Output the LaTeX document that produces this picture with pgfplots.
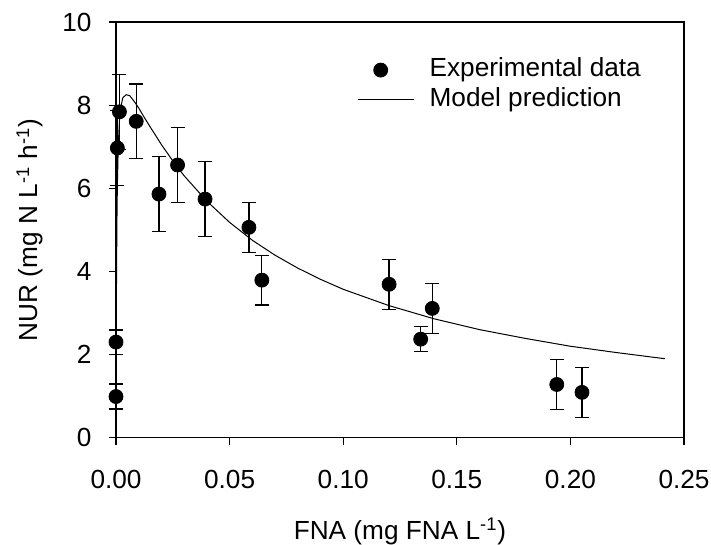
\documentclass[border=0pt]{standalone}
\usepackage{fontspec}
\setmainfont{Liberation Sans}
\usepackage{pgfplots}
\pgfplotsset{compat=1.18}
\usepackage{pgfplotstable}
\pgfplotstableread{
x y e
0.0000 0.99 0.30
0.0000 2.30 0.29
0.0006 6.97 0.90
0.0015 7.84 0.90
0.0089 7.61 0.90
0.0189 5.86 0.90
0.0271 6.56 0.90
0.0392 5.74 0.90
0.0585 5.06 0.60
0.0642 3.79 0.60
0.1202 3.69 0.60
0.1341 2.37 0.30
0.1392 3.11 0.60
0.1940 1.28 0.60
0.2051 1.09 0.60
}\expdata
\pgfplotstableread{
x y
0 0
0.0001 2.18
0.0002 3.54
0.0004 5.15
0.0006 6.05
0.001 7.03
0.0015 7.61
0.002 7.91
0.003 8.18
0.0045 8.25
0.006 8.23
0.008 8.09
0.010 7.93
0.0125 7.70
0.015 7.48
0.02 7.05
0.025 6.66
0.03 6.30
0.04 5.69
0.05 5.18
0.06 4.75
0.07 4.39
0.08 4.08
0.09 3.81
0.10 3.57
0.12 3.18
0.14 2.86
0.16 2.60
0.18 2.39
0.20 2.20
0.22 2.05
0.2416 1.90
}\modeldata
\begin{document}
\fontsize{13.1pt}{15pt}\selectfont
\begin{tikzpicture}
\useasboundingbox (-58pt,-53.65pt) rectangle (297.5pt,218.85pt);
% frame-only axis (same box), drawn first
\begin{axis}[
  scale only axis,
  width=284pt, height=207.85pt,
  xmin=0, xmax=0.25, ymin=0, ymax=10,
  ticks=none,
  axis line style={black, line width=0.7pt},
]
\addplot[draw=none, no marks, forget plot] coordinates {(0.1,5)};
\end{axis}
\begin{axis}[
  scale only axis,
  width=284pt, height=207.85pt,
  xmin=0, xmax=0.25, ymin=0, ymax=10,
  xtick={0,0.05,0.10,0.15,0.20,0.25},
  ytick={0,2,4,6,8,10},
  tick align=outside,
  xtick pos=bottom, ytick pos=left,
  major tick length=3.5pt,
  minor tick num=0,
  tick style={black, line width=0.6pt},
  axis line style={black, line width=0.6pt},
  /pgf/number format/assume math mode=true,
  xticklabel style={/pgf/number format/fixed, /pgf/number format/fixed zerofill, /pgf/number format/precision=2, anchor=center, yshift=-17.2pt},
  scaled x ticks=false,
  yticklabel style={anchor=east, xshift=-4.2pt},
  every axis x label/.style={at={(axis description cs:0.5,-0.225)}, anchor=center},
  every axis y label/.style={at={(axis description cs:-0.1514,0.5)}, rotate=90, anchor=center},
  xlabel={FNA (mg FNA L\textsuperscript{-1})},
  ylabel={NUR (mg N L\textsuperscript{-1} h\textsuperscript{-1})},
  clip=false,
  legend cell align=left,
  legend style={draw=none, fill=none, at={(axis description cs:0.4134,0.93)}, anchor=north west,
    nodes={inner sep=1.2pt, text height=9.5pt, text depth=2.7pt}, row sep=0pt, column sep=6.5pt},
]
\addplot[only marks, mark=*, mark size=3.5pt, black,
  legend image code/.code={\draw[black] plot[mark=*, mark size=3.5pt] coordinates {(11.5pt,0pt)};},
  error bars/.cd, y dir=both, y explicit,
  error bar style={line width=0.6pt, black},
  error mark options={rotate=90, mark size=3.5pt, line width=0.6pt, black}]
  table[x=x, y=y, y error=e] {\expdata};
\addlegendentry{Experimental data}
\addplot[black, line width=0.5pt, no marks,
  legend image code/.code={\draw[black, line width=0.5pt] (0pt,0pt) -- (28pt,0pt);}]
  table[x=x, y=y] {\modeldata};
\addlegendentry{Model prediction}
\end{axis}
\end{tikzpicture}
\end{document}
